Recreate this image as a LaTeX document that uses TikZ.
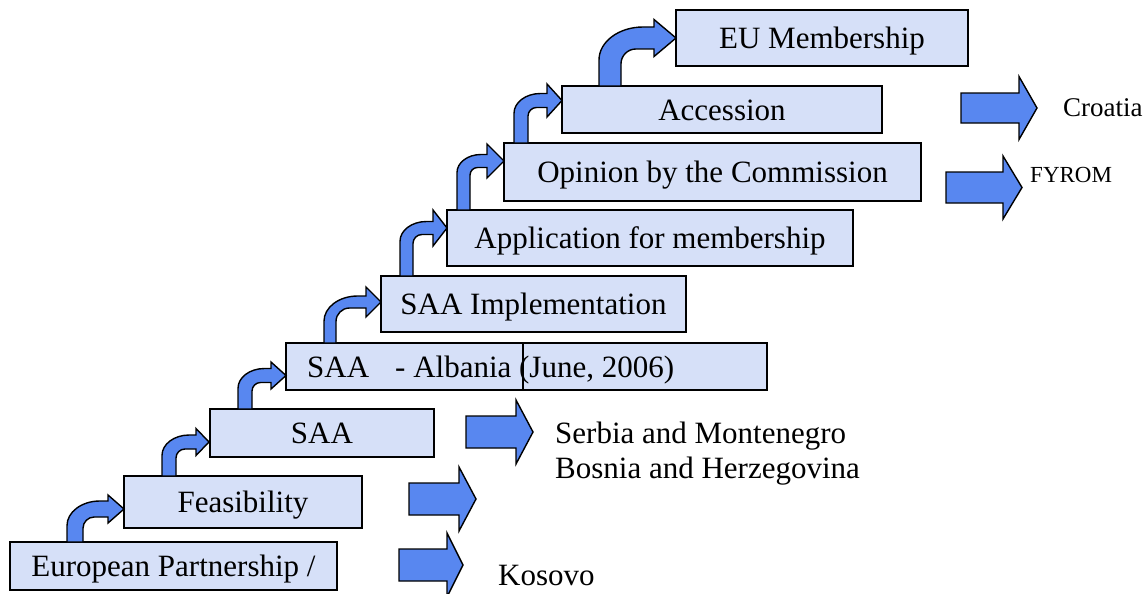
\documentclass[tikz,border=0pt]{standalone}
\usepackage{fontspec}
\setmainfont{Liberation Serif}
\definecolor{boxfill}{RGB}{214,224,248}
\definecolor{arrfill}{RGB}{88,135,240}
\newcommand{\mainfs}{\fontsize{31}{36}\selectfont}
\tikzset{
  box/.style={draw, fill=boxfill, line width=1.6pt, inner sep=0pt, text height=21pt, text depth=0pt, font=\mainfs},
  arrowsty/.style={draw=black, fill=arrfill, line width=1.4pt, line join=miter},
  lbl/.style={anchor=base west, inner sep=0pt, font=\mainfs}
}
% bent arrow: stem left x, width, bottom y, shaft centre y, tip x, head length, head half height
\newcommand{\bentarr}[7]{%
  \pgfmathsetmacro\baSR{#1+#2}%
  \pgfmathsetmacro\baTY{#4-#2/2}%
  \pgfmathsetmacro\baBY{#4+#2/2}%
  \pgfmathsetmacro\baHB{#5-#6}%
  \pgfmathsetmacro\baROX{0.8*(\baHB-#1)}%
  \pgfmathsetmacro\baROY{min(0.6*(#3-\baTY),0.75*\baROX)}%
  \pgfmathsetmacro\baRIX{0.45*(\baHB-\baSR)}%
  \pgfmathsetmacro\baRIY{min(\baRIX,0.6*(#3-\baBY))}%
  \filldraw[arrowsty] (#1,#3) -- (#1,\baTY+\baROY)
    .. controls (#1,\baTY+0.448*\baROY) and (#1+0.448*\baROX,\baTY) .. (#1+\baROX,\baTY)
    -- (\baHB,\baTY) -- (\baHB,#4-#7) -- (#5,#4) -- (\baHB,#4+#7) -- (\baHB,\baBY)
    -- (\baSR+\baRIX,\baBY)
    .. controls (\baSR+0.448*\baRIX,\baBY) and (\baSR,\baBY+0.448*\baRIY) .. (\baSR,\baBY+\baRIY)
    -- (\baSR,#3) -- cycle;}
% block arrow: left x, head base x, tip x, centre y, body half height, head half height
\newcommand{\blockarr}[6]{%
  \filldraw[arrowsty] (#1,#4-#5) -- (#2,#4-#5) -- (#2,#4-#6) -- (#3,#4) -- (#2,#4+#6) -- (#2,#4+#5) -- (#1,#4+#5) -- cycle;}
\begin{document}
\begin{tikzpicture}[x=1pt,y=-1pt]
\useasboundingbox[fill=white] (0,0) rectangle (1148,594);

% steps
\node[box, minimum width=327pt, minimum height=48pt] (euro) at (173.5,566) {European Partnership /};
\node[box, minimum width=238pt, minimum height=52pt] (feas) at (243,502) {Feasibility};
\node[box, minimum width=224pt, minimum height=48pt] (saa) at (322,433) {SAA};
\node[box, minimum width=481pt, minimum height=47pt] (alb) at (526.5,366.5) {};
\node[lbl] (albt) at (307,377.5) {SAA\hspace{26pt}- Albania (June, 2006)};
\draw[line width=1.6pt] ([xshift=238pt]alb.north west) -- ([xshift=238pt]alb.south west);
\node[box, minimum width=305pt, minimum height=56pt] (impl) at (533.5,304) {SAA Implementation};
\node[box, minimum width=406pt, minimum height=56pt] (app) at (650,238) {Application for membership};
\node[box, minimum width=417pt, minimum height=58pt] (opin) at (712.5,172) {Opinion by the Commission};
\node[box, minimum width=320pt, minimum height=47pt] (acc) at (722,109.5) {Accession};
\node[box, minimum width=292pt, minimum height=56pt] (eu) at (822,38) {EU Membership};

% bent arrows between steps
\bentarr{67}{16}{542}{509}{124}{16}{14}
\bentarr{162}{14}{476}{442}{209}{13}{13.5}
\bentarr{238}{14}{409}{375.5}{286}{15}{13.5}
\bentarr{324}{12}{343}{302}{381}{15}{15}
\bentarr{400}{13}{276}{228}{447}{14}{18}
\bentarr{457}{13}{210}{161}{504}{17}{17}
\bentarr{514}{14}{143}{100.5}{562}{15}{16.5}
\bentarr{599}{22}{86}{38}{676}{22}{18.5}

% block arrows
\blockarr{466}{516}{533}{432}{16}{32}
\blockarr{409}{459}{476}{499}{16}{32}
\blockarr{399}{447}{463}{565}{16}{32}
\blockarr{961}{1019}{1037}{108}{15}{31.5}
\blockarr{946}{1003}{1022}{187.5}{15.5}{31.5}

% country labels
\node[lbl] (serb) at (555,443) {Serbia and Montenegro};
\begin{scope}
\clip (540,450) rectangle (900,484);
\node[lbl] (bosn) at (555,478) {Bosnia and Herzegovina};
\end{scope}
\node[lbl] (kos) at (498,585) {Kosovo};
\node[lbl, font=\fontsize{27}{32}\selectfont] (cro) at (1063,116) {Croatia};
\node[lbl, font=\fontsize{23}{28}\selectfont] (fyr) at (1030,182) {FYROM};
\end{tikzpicture}
\end{document}
